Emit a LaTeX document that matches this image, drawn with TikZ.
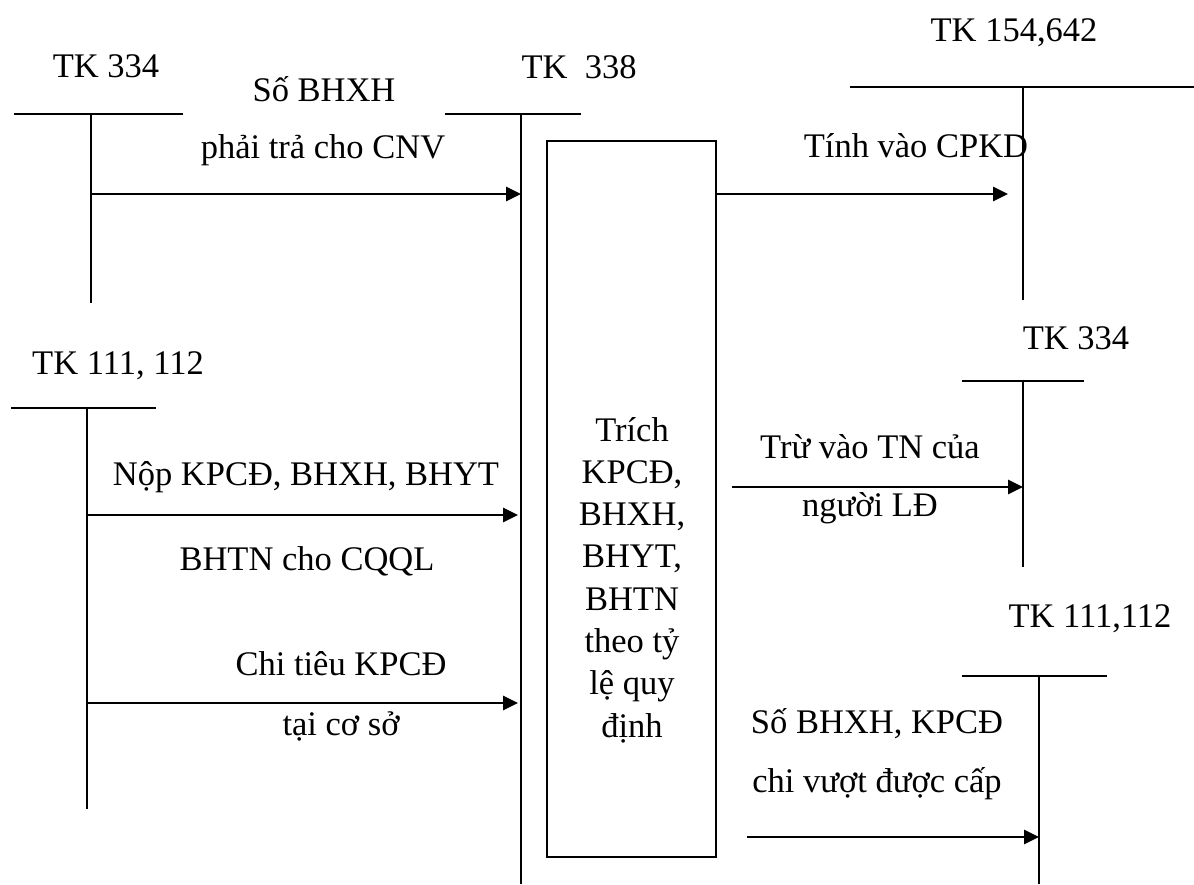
\documentclass[tikz,border=0pt]{standalone}
\usepackage{fontspec}
\setmainfont{Liberation Serif}
\usetikzlibrary{arrows.meta}
\begin{document}
\begin{tikzpicture}[x=1pt,y=-1pt,
  tline/.style={line width=2pt},
  flow/.style={line width=2.8pt,-{Triangle[length=15pt,width=14pt]}},
  lbl/.style={anchor=base,inner sep=0pt,font=\fontsize{34.5}{42.3}\selectfont}]
\useasboundingbox (0,0) rectangle (1194,884);
\fill[white] (0,0) rectangle (1194,884);

% ---- left TK 334
\node[lbl] (l334) at (106,77) {TK 334};
\coordinate (l334a) at (14,114); \coordinate (l334b) at (183,114);
\coordinate (l334t) at (91,114); \coordinate (l334e) at (91,303);
\draw[tline] (l334a) -- (l334b);
\draw[tline] (l334t) -- (l334e);

% ---- TK 338
\node[lbl] (t338) at (579,78) {TK\ \ 338};
\coordinate (t338a) at (445,114); \coordinate (t338b) at (581,114);
\coordinate (t338t) at (521,114); \coordinate (t338e) at (521,884);
\draw[tline] (t338a) -- (t338b);
\draw[tline] (t338t) -- (t338e);

% ---- TK 154,642
\node[lbl] (t154) at (1014,41) {TK 154,642};
\coordinate (t154a) at (850,87); \coordinate (t154b) at (1194,87);
\coordinate (t154t) at (1023,87); \coordinate (t154e) at (1023,300);
\draw[tline] (t154a) -- (t154b);
\draw[tline] (t154t) -- (t154e);

% ---- left TK 111, 112
\node[lbl] (l111) at (118,374) {TK 111, 112};
\coordinate (l111a) at (11,408); \coordinate (l111b) at (156,408);
\coordinate (l111t) at (87,408); \coordinate (l111e) at (87,809);
\draw[tline] (l111a) -- (l111b);
\draw[tline] (l111t) -- (l111e);

% ---- right TK 334
\node[lbl] (r334) at (1076,349) {TK 334};
\coordinate (r334a) at (962,381); \coordinate (r334b) at (1084,381);
\coordinate (r334t) at (1023,381); \coordinate (r334e) at (1023,567);
\draw[tline] (r334a) -- (r334b);
\draw[tline] (r334t) -- (r334e);

% ---- right TK 111,112
\node[lbl] (r111) at (1090,627) {TK 111,112};
\coordinate (r111a) at (962,676); \coordinate (r111b) at (1107,676);
\coordinate (r111t) at (1039,676); \coordinate (r111e) at (1039,884);
\draw[tline] (r111a) -- (r111b);
\draw[tline] (r111t) -- (r111e);

% ---- central box
\node[draw,line width=2pt,minimum width=169pt,minimum height=716pt,inner sep=0pt] (box) at (631.5,499) {};
\node[lbl] (boxtxt) at (632,441) {\parbox[t]{160pt}{\centering\fontsize{34.5}{42.3}\selectfont
 Trích\\KPCĐ,\\BHXH,\\BHYT,\\BHTN\\theo tỷ\\lệ quy\\định}};

% ---- arrows
\coordinate (a1s) at (91,194); \coordinate (a1e) at (521,194);
\draw[flow] (a1s) -- (a1e);
\node[lbl] (s1a) at (324,101) {Số BHXH};
\node[lbl] (s1b) at (323,158) {phải trả cho CNV};

\coordinate (a2s) at (box.east |- 0,194); \coordinate (a2e) at (1008,194);
\draw[flow] (a2s) -- (a2e);
\node[lbl] (s2) at (916,157) {Tính vào CPKD};

\coordinate (a3s) at (87,515); \coordinate (a3e) at (518,515);
\draw[flow] (a3s) -- (a3e);
\node[lbl] (s3a) at (306,485) {Nộp KPCĐ, BHXH, BHYT};
\node[lbl] (s3b) at (307,570) {BHTN cho CQQL};

\coordinate (a4s) at (87,703); \coordinate (a4e) at (518,703);
\draw[flow] (a4s) -- (a4e);
\node[lbl] (s4a) at (341,675) {Chi tiêu KPCĐ};
\node[lbl] (s4b) at (341,735) {tại cơ sở};

\coordinate (a5s) at (732,487); \coordinate (a5e) at (1023,487);
\draw[flow] (a5s) -- (a5e);
\node[lbl] (s5a) at (870,458) {Trừ vào TN của};
\node[lbl] (s5b) at (870,516) {người LĐ};

\coordinate (a6s) at (747,837); \coordinate (a6e) at (1039,837);
\draw[flow] (a6s) -- (a6e);
\node[lbl] (s6a) at (877,733) {Số BHXH, KPCĐ};
\node[lbl] (s6b) at (877,792) {chi vượt được cấp};
\end{tikzpicture}
\end{document}
